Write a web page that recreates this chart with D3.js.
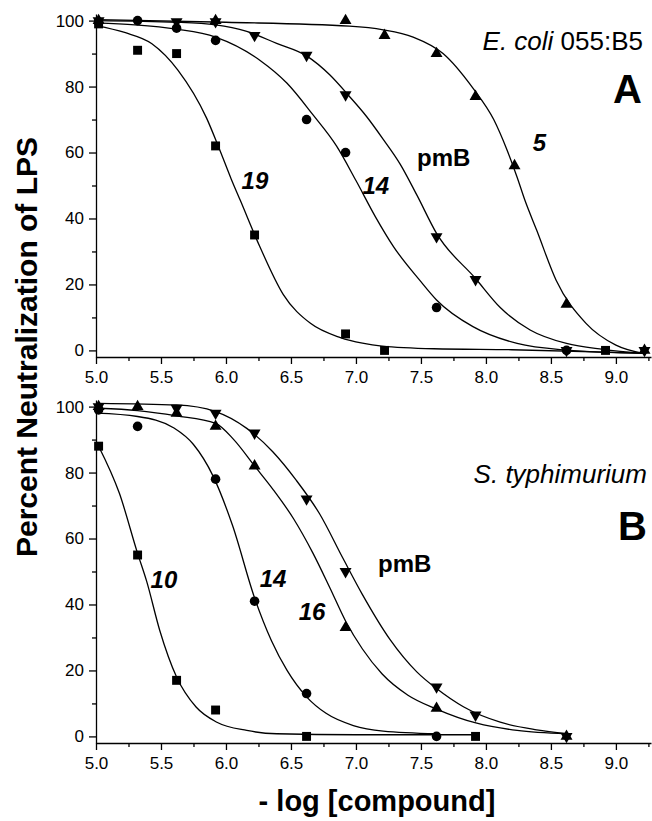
<!DOCTYPE html>
<html>
<head>
<meta charset="utf-8">
<script src="https://cdn.jsdelivr.net/npm/d3@7"></script>
<style>
body { margin: 0; background: #fff; }
svg { display: block; font-family: "Liberation Sans", Arial, sans-serif; }
.axis path, .axis line { stroke: #000; stroke-width: 1.3; }
.axis text { font-size: 17px; fill: #000; font-family: "Liberation Sans", Arial, sans-serif; }
</style>
</head>
<body>
<svg id="chart" width="652" height="821"></svg>
<script>
// tick values
var xTicks = [5.0, 5.5, 6.0, 6.5, 7.0, 7.5, 8.0, 8.5, 9.0];
var xMinor = [5.25, 5.75, 6.25, 6.75, 7.25, 7.75, 8.25, 8.75, 9.25];
var yTicks = [0, 20, 40, 60, 80, 100];
var yMinor = [10, 30, 50, 70, 90];

// panel A (E. coli 055:B5) - measured points [-log conc, % neutralization]
var sq19A = [[5.02, 99], [5.32, 91], [5.62, 90], [5.92, 62], [6.22, 35], [6.92, 5], [7.22, 0], [8.92, 0]];
var ci14A = [[5.02, 99.5], [5.32, 100], [5.62, 97.7], [5.92, 94], [6.62, 70], [6.92, 60], [7.62, 13], [8.62, 0]];
var dnPmbA = [[5.02, 100], [5.62, 99.7], [5.92, 99.7], [6.22, 95.5], [6.62, 89.5], [6.92, 77.5], [7.62, 34.5], [7.92, 21.5], [8.62, 0], [9.22, 0]];
var up5A = [[5.02, 100], [5.92, 100], [6.92, 100], [7.22, 95.5], [7.62, 90], [7.92, 77], [8.22, 56], [8.62, 14], [9.22, 0]];

// panel A fitted curves
var fit19A = [[5.0, 98.5], [5.22, 96.4], [5.43, 93], [5.63, 85], [5.85, 70.5], [5.95, 61], [6.04, 52], [6.11, 45.5], [6.26, 31.5], [6.44, 17], [6.65, 8.2], [6.88, 3.9], [7.05, 2.2], [7.2, 1.3], [7.6, 0.5], [8.2, 0.2], [9.22, -0.8]];
var fit14A = [[5.0, 99.3], [5.3, 98.7], [5.62, 97.4], [5.92, 95], [6.26, 88], [6.47, 81], [6.67, 71.4], [6.85, 62], [7.0, 51.5], [7.15, 40.5], [7.29, 31.4], [7.49, 21.3], [7.62, 15.3], [7.9, 7.2], [8.24, 2.1], [8.62, 0.1], [9.22, -0.9]];
var fitPmbA = [[5.0, 100], [5.62, 99.5], [5.92, 98.7], [6.16, 96.7], [6.39, 93.1], [6.62, 89.3], [6.8, 83.5], [6.95, 77], [7.08, 71], [7.21, 64], [7.34, 56.5], [7.47, 47], [7.62, 35.5], [7.92, 21.8], [8.11, 13], [8.34, 6.2], [8.62, 2.1], [8.9, 0.3], [9.22, -1]];
var fit5A = [[5.0, 100.3], [6.0, 99.5], [6.95, 98.3], [7.21, 97.2], [7.44, 95], [7.67, 90], [7.9, 79.5], [8.06, 70], [8.16, 61], [8.24, 52.5], [8.3, 45.5], [8.39, 36.5], [8.54, 21.3], [8.77, 8.2], [9.0, 1.6], [9.22, -1]];

// panel B (S. typhimurium)
var sq10B = [[5.02, 88], [5.32, 55], [5.62, 17], [5.92, 8], [6.62, 0], [7.92, 0]];
var ci14B = [[5.02, 99], [5.32, 94], [5.92, 78], [6.22, 41], [6.62, 13], [7.62, 0]];
var up16B = [[5.02, 100], [5.32, 100], [5.62, 98], [5.92, 94], [6.22, 82], [6.92, 33], [7.62, 8.5], [8.62, 0]];
var dnPmbB = [[5.02, 100], [5.62, 99.5], [5.92, 98], [6.22, 92], [6.62, 72], [6.92, 50], [7.62, 15], [7.92, 6.5], [8.62, 0]];

var fit10B = [[5.02, 88], [5.18, 73.7], [5.32, 55.5], [5.39, 47], [5.49, 32.2], [5.62, 18], [5.77, 8.9], [5.93, 4.3], [6.16, 1.8], [6.39, 0.8], [7.0, 0.5], [7.92, 0.5]];
var fit14B = [[5.0, 98], [5.32, 97], [5.6, 93.5], [5.75, 88.5], [5.9, 79], [6.05, 64], [6.22, 42], [6.35, 29], [6.47, 20], [6.62, 12], [6.77, 7], [6.98, 3.3], [7.21, 1.6], [7.62, 0.8]];
var fit16B = [[5.02, 99.5], [5.32, 98.8], [5.62, 97.2], [5.92, 94.9], [6.06, 90], [6.22, 82], [6.36, 75], [6.52, 66], [6.67, 55.5], [6.8, 45], [6.92, 35], [7.05, 26.5], [7.2, 19], [7.4, 12.5], [7.62, 8.3], [7.93, 4], [8.24, 1.8], [8.62, 0.8]];
var fitPmbB = [[5.02, 101], [5.62, 100.5], [5.92, 98.5], [6.16, 93.4], [6.36, 86.3], [6.54, 77.7], [6.72, 67.5], [6.9, 54], [7.05, 43], [7.26, 29.5], [7.47, 19.5], [7.62, 14.5], [7.83, 8.9], [8.11, 4.3], [8.39, 2], [8.62, 0.8]];

var svg = d3.select("#chart");

var x = d3.scaleLinear().domain([5, 9.27]).range([96, 651]);

var symSquare = d3.symbol().type(d3.symbolSquare).size(80)();
var symCircle = d3.symbol().type(d3.symbolCircle).size(72)();
var symTri = d3.symbol().type(d3.symbolTriangle).size(62)();

var panels = [
    {
        top: 14, bottom: 357,
        series: [
            { pts: sq19A, fit: fit19A, sym: symSquare, rot: 0 },
            { pts: ci14A, fit: fit14A, sym: symCircle, rot: 0 },
            { pts: dnPmbA, fit: fitPmbA, sym: symTri, rot: 180 },
            { pts: up5A, fit: fit5A, sym: symTri, rot: 0 }
        ],
        labels: [
            { t: "19", x: 6.12, y: 49, italic: true },
            { t: "14", x: 7.05, y: 47.5, italic: true },
            { t: "pmB", x: 7.47, y: 56, italic: false },
            { t: "5", x: 8.36, y: 60.5, italic: true }
        ],
        title: { t1: "E. coli", t2: " 055:B5", px: 643, py: 50 },
        letter: { t: "A", px: 642, py: 103 }
    },
    {
        top: 400, bottom: 743,
        series: [
            { pts: sq10B, fit: fit10B, sym: symSquare, rot: 0 },
            { pts: ci14B, fit: fit14B, sym: symCircle, rot: 0 },
            { pts: up16B, fit: fit16B, sym: symTri, rot: 0 },
            { pts: dnPmbB, fit: fitPmbB, sym: symTri, rot: 180 }
        ],
        labels: [
            { t: "10", x: 5.42, y: 45, italic: true },
            { t: "14", x: 6.26, y: 45.3, italic: true },
            { t: "16", x: 6.56, y: 35.3, italic: true },
            { t: "pmB", x: 7.17, y: 49.7, italic: false }
        ],
        title: { t1: "S. typhimurium", t2: "", px: 647, py: 483 },
        letter: { t: "B", px: 647, py: 540 }
    }
];

panels.forEach(function(p) {
    var y = d3.scaleLinear().domain([-2, 102]).range([p.bottom, p.top]);
    var g = svg.append("g");

    // minor ticks first, then the main axes
    g.append("g").attr("class", "axis")
        .attr("transform", "translate(0," + p.bottom + ")")
        .call(d3.axisBottom(x).tickValues(xMinor).tickSize(4).tickSizeOuter(0).tickFormat(""))
        .select(".domain").remove();
    g.append("g").attr("class", "axis")
        .attr("transform", "translate(" + x(5) + ",0)")
        .call(d3.axisLeft(y).tickValues(yMinor).tickSize(4).tickSizeOuter(0).tickFormat(""))
        .select(".domain").remove();

    g.append("g").attr("class", "axis")
        .attr("transform", "translate(0," + p.bottom + ")")
        .call(d3.axisBottom(x).tickValues(xTicks).tickSize(7).tickSizeOuter(0).tickPadding(7).tickFormat(d3.format(".1f")));
    g.append("g").attr("class", "axis")
        .attr("transform", "translate(" + x(5) + ",0)")
        .call(d3.axisLeft(y).tickValues(yTicks).tickSize(7).tickSizeOuter(0).tickPadding(5));

    var line = d3.line()
        .x(function(d) { return x(d[0]); })
        .y(function(d) { return y(d[1]); })
        .curve(d3.curveMonotoneX);

    p.series.forEach(function(s) {
        g.append("path")
            .attr("d", line(s.fit))
            .attr("fill", "none")
            .attr("stroke", "#000")
            .attr("stroke-width", 1.3);
    });

    p.series.forEach(function(s) {
        g.selectAll(null)
            .data(s.pts)
            .enter().append("path")
            .attr("d", s.sym)
            .attr("transform", function(d) {
                return "translate(" + x(d[0]) + "," + y(d[1]) + ") rotate(" + s.rot + ")";
            })
            .attr("fill", "#000");
    });

    p.labels.forEach(function(l) {
        g.append("text")
            .attr("x", x(l.x))
            .attr("y", y(l.y))
            .attr("font-size", 24)
            .attr("font-weight", "bold")
            .attr("font-style", l.italic ? "italic" : "normal")
            .text(l.t);
    });

    var title = g.append("text")
        .attr("x", p.title.px)
        .attr("y", p.title.py)
        .attr("text-anchor", "end")
        .attr("font-size", 26);
    title.append("tspan").attr("font-style", "italic").text(p.title.t1);
    if (p.title.t2) title.append("tspan").text(p.title.t2);

    g.append("text")
        .attr("x", p.letter.px)
        .attr("y", p.letter.py)
        .attr("text-anchor", "end")
        .attr("font-size", 40)
        .attr("font-weight", "bold")
        .text(p.letter.t);
});

svg.append("text")
    .attr("transform", "translate(37,347) rotate(-90)")
    .attr("text-anchor", "middle")
    .attr("font-size", 30)
    .attr("font-weight", "bold")
    .text("Percent Neutralization of LPS");

svg.append("text")
    .attr("x", 377)
    .attr("y", 811)
    .attr("text-anchor", "middle")
    .attr("font-size", 29)
    .attr("font-weight", "bold")
    .text("- log [compound]");
</script>
</body>
</html>
